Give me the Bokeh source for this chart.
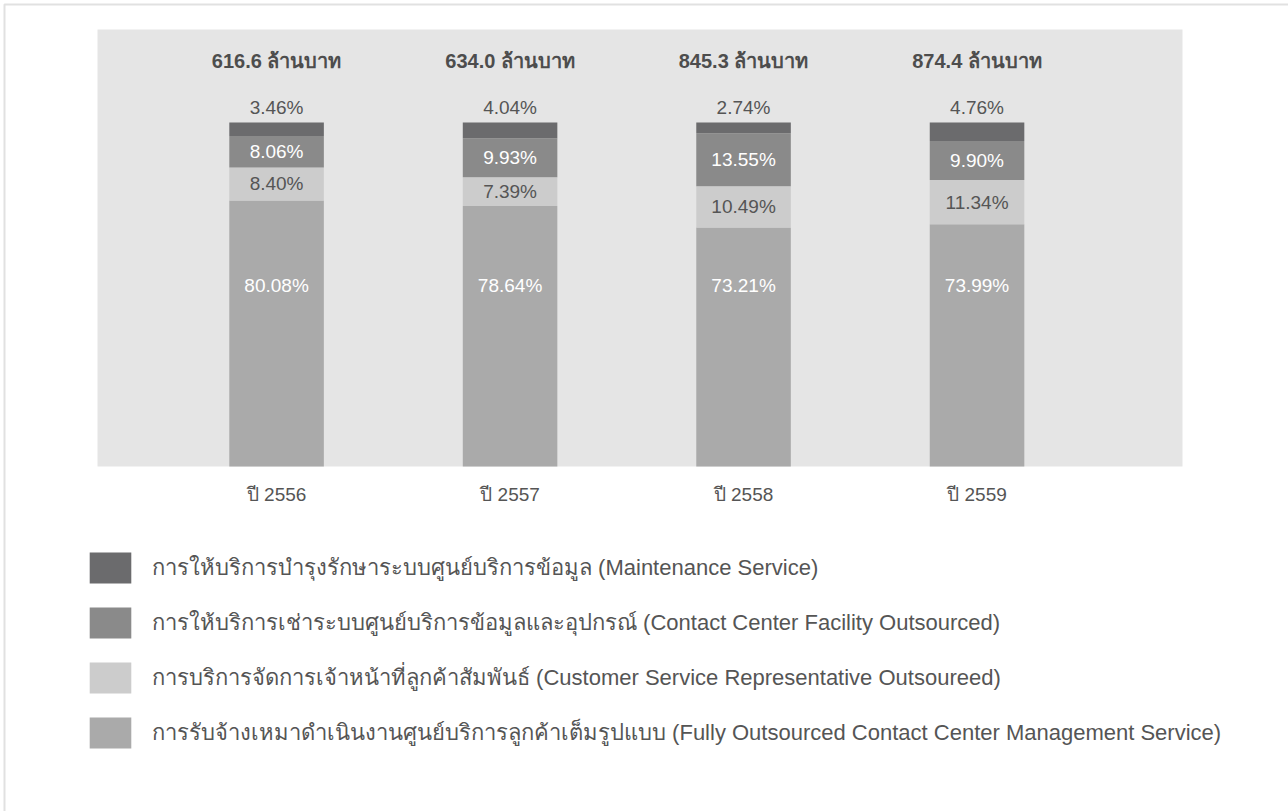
from bokeh.plotting import figure
from bokeh.models import (ColumnDataSource, Range1d, Legend, LegendItem, BoxAnnotation)
from bokeh.core.properties import value
from bokeh.embed import file_html
from bokeh.resources import INLINE

# ---------------- data ----------------
years = ["ปี 2556", "ปี 2557", "ปี 2558", "ปี 2559"]
totals = [616.6, 634.0, 845.3, 874.4]          # ล้านบาท
fully = [80.08, 78.64, 73.21, 73.99]            # Fully Outsourced Contact Center Management Service
csr = [8.40, 7.39, 10.49, 11.34]                # Customer Service Representative Outsoureed
facility = [8.06, 9.93, 13.55, 9.90]            # Contact Center Facility Outsourced
maint = [3.46, 4.04, 2.74, 4.76]                # Maintenance Service

series_names = [
    "การรับจ้างเหมาดำเนินงานศูนย์บริการลูกค้าเต็มรูปแบบ (Fully Outsourced Contact Center Management Service)",
    "การบริการจัดการเจ้าหน้าที่ลูกค้าสัมพันธ์ (Customer Service Representative Outsoureed)",
    "การให้บริการเช่าระบบศูนย์บริการข้อมูลและอุปกรณ์ (Contact Center Facility Outsourced)",
    "การให้บริการบำรุงรักษาระบบศูนย์บริการข้อมูล (Maintenance Service)",
]
series_colors = ["#aaaaaa", "#cccccc", "#8a8a8a", "#6b6b6d"]
label_colors = ["white", "#555555", "white", "#555555"]

FONT = "Liberation Sans"
W, H = 1288, 811

# value axis window shown by the grey panel (the reference's axis does not start at 0)
Y_LO, Y_HI = 12.2, 123.7
X_LO, X_HI = -0.267, 4.38
# panel pixel box: x 97..1182, y 29..466
PX_X = (1182 - 97) / (X_HI - X_LO)
PX_Y = (466 - 29) / (Y_HI - Y_LO)
x0 = X_LO - 97 / PX_X
x1 = x0 + W / PX_X
y0 = Y_LO - (H - 466) / PX_Y
y1 = Y_HI + 29 / PX_Y

x = [i + 0.5 for i in range(len(years))]

p = figure(width=W, height=H, output_backend="svg", toolbar_location=None,
           x_range=Range1d(x0, x1), y_range=Range1d(y0, y1),
           x_axis_location=None, y_axis_location=None, min_border=0)
p.background_fill_color = "white"
p.border_fill_color = "white"
p.outline_line_color = None
p.grid.visible = False

# grey plot panel
panel = BoxAnnotation(left=X_LO, right=X_HI, bottom=Y_LO, top=Y_HI,
                      fill_color="#e5e5e5", fill_alpha=1, line_color=None, level="underlay")
p.add_layout(panel)

# stacked bars (clipped at the panel floor like the reference)
vals_list = [fully, csr, facility, maint]
cum = [0.0] * len(years)
renderers = []
for k, vals in enumerate(vals_list):
    top = [cum[i] + vals[i] for i in range(len(vals))]
    bottom = [max(c, Y_LO) for c in cum]
    src = ColumnDataSource(dict(x=x, top=top, bottom=bottom))
    r = p.vbar(x="x", top="top", bottom="bottom", width=0.405, source=src,
               fill_color=series_colors[k], line_color=None)
    renderers.append(r)
    txt = [f"{v:.2f}%" for v in vals]
    if k == 0:
        p.text(x=x, y=[58.4] * len(x), text=txt, text_align="center", text_baseline="middle",
               text_font=value(FONT), text_font_size="19px", text_color=label_colors[k])
    elif k == 3:
        p.text(x=x, y=top, text=txt, text_align="center", text_baseline="bottom",
               y_offset=-4, text_font=value(FONT), text_font_size="19px",
               text_color=label_colors[k])
    else:
        mid = [cum[i] + vals[i] / 2 for i in range(len(vals))]
        p.text(x=x, y=mid, text=txt, text_align="center", text_baseline="middle",
               text_font=value(FONT), text_font_size="19px", text_color=label_colors[k])
    cum = top

# totals header
p.text(x=x, y=cum, text=[f"{t:.1f} ล้านบาท" for t in totals], text_align="center",
       text_baseline="middle", y_offset=-61, text_font=value(FONT), text_font_size="20px",
       text_font_style="bold", text_color="#4d4d4d")

# category labels (x axis)
p.text(x=x, y=[Y_LO] * len(x), text=years, text_align="center", text_baseline="middle",
       y_offset=28, text_font=value(FONT), text_font_size="19px", text_color="#555555")

# legend
items = [LegendItem(label=series_names[k], renderers=[renderers[k]]) for k in [3, 2, 1, 0]]
leg = Legend(items=items, location=(84, H - 752), orientation="vertical",
             glyph_width=52, glyph_height=39, spacing=16, padding=0, margin=0,
             label_standoff=16, label_text_font=FONT, label_text_font_size="22px",
             label_text_color="#555555", border_line_color=None,
             background_fill_alpha=0)
p.add_layout(leg, "center")

# outer frame (top and left edges visible)
frame = BoxAnnotation(left=4, right=W + 20, top=4, bottom=H + 20,
                      left_units="canvas", right_units="canvas",
                      top_units="canvas", bottom_units="canvas",
                      fill_alpha=0, line_color="#9c9c9c", line_width=2, level="overlay")
p.add_layout(frame)

open("out.html", "w").write(file_html(p, INLINE))
